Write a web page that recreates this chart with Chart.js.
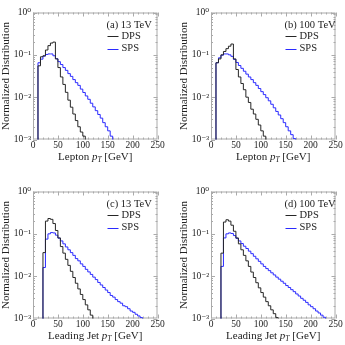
<!DOCTYPE html>
<html>
<head>
<meta charset="utf-8">
<script src="https://cdn.jsdelivr.net/npm/chart.js@4.4.1/dist/chart.umd.min.js"></script>
<style>
  html, body { margin: 0; padding: 0; background: #fff; }
  body { width: 345px; height: 345px; position: relative; overflow: hidden; }
  canvas { position: absolute; }
</style>
</head>
<body>
<canvas id="pa" width="168" height="166" style="left:0px;top:0px"></canvas>
<canvas id="pb" width="168" height="166" style="left:177.5px;top:0px"></canvas>
<canvas id="pc" width="168" height="166" style="left:0px;top:178.5px"></canvas>
<canvas id="pd" width="168" height="166" style="left:177.5px;top:178.5px"></canvas>
<script>
// histogram bins: 5 GeV wide, lepton from 5 GeV, leading jet from 15 GeV
const binWidth = 5
const leptonStart = 5
const jetStart = 15

const dpsLepton13 = [0.055, 0.09, 0.095, 0.13, 0.165, 0.19, 0.2, 0.08, 0.05, 0.03, 0.02, 0.013,
  0.0085, 0.0058, 0.004, 0.0028, 0.002, 0.0015, 0.0012, 0.0008]
const spsLepton13 = [0.065, 0.079, 0.093, 0.102, 0.105, 0.105, 0.095, 0.081, 0.069, 0.059, 0.05,
  0.043, 0.036, 0.031, 0.026, 0.022, 0.019, 0.0155, 0.0129, 0.0107, 0.0089, 0.0072, 0.0059,
  0.0048, 0.0039, 0.0032, 0.0025, 0.002, 0.0016, 0.0012, 0.00095]

const dpsLepton100 = [0.065, 0.08, 0.1, 0.12, 0.14, 0.16, 0.18, 0.08, 0.045, 0.03, 0.021, 0.015,
  0.01, 0.0075, 0.0052, 0.004, 0.003, 0.0022, 0.0016, 0.0012, 0.0008]
const spsLepton100 = [0.065, 0.085, 0.098, 0.105, 0.105, 0.1, 0.092, 0.078, 0.066, 0.056, 0.048,
  0.041, 0.035, 0.03, 0.026, 0.022, 0.019, 0.016, 0.0135, 0.0115, 0.0097, 0.0082, 0.0068,
  0.0056, 0.0046, 0.0038, 0.0031, 0.0025, 0.002, 0.0016, 0.0013, 0.00105, 0.0008]

const dpsJet13 = [0.036, 0.2, 0.23, 0.22, 0.175, 0.12, 0.08, 0.05, 0.035, 0.025, 0.018, 0.013,
  0.0093, 0.0068, 0.005, 0.0037, 0.0028, 0.0021, 0.0016, 0.0012, 0.0009]
const spsJet13 = [0.016, 0.075, 0.1, 0.107, 0.105, 0.093, 0.079, 0.068, 0.058, 0.049, 0.042,
  0.036, 0.031, 0.026, 0.023, 0.0195, 0.017, 0.0145, 0.0126, 0.011, 0.0095, 0.0083, 0.0071,
  0.0062, 0.0054, 0.0047, 0.0041, 0.0035, 0.0032, 0.0028, 0.0025, 0.0023, 0.002, 0.0019,
  0.0017, 0.0015, 0.0014, 0.00126, 0.00115, 0.00105, 0.00095]

const dpsJet100 = [0.035, 0.19, 0.215, 0.2, 0.16, 0.115, 0.08, 0.058, 0.042, 0.031, 0.023, 0.017,
  0.0125, 0.0093, 0.007, 0.0053, 0.0041, 0.0032, 0.0025, 0.002, 0.0016, 0.0013, 0.00105, 0.0008]
const spsJet100 = [0.017, 0.08, 0.1, 0.105, 0.102, 0.091, 0.078, 0.068, 0.059, 0.051, 0.045,
  0.039, 0.034, 0.0295, 0.0257, 0.0224, 0.0195, 0.017, 0.0151, 0.0135, 0.012, 0.0107, 0.0095,
  0.0085, 0.0076, 0.0068, 0.006, 0.0054, 0.0048, 0.0043, 0.0038, 0.0034, 0.003, 0.0027,
  0.0024, 0.0021, 0.0019, 0.0017, 0.0015, 0.00135, 0.0012, 0.00107, 0.00095]

const yTicks = [1e-3, 1e-2, 1e-1, 1]
const yTickLabels = ['10⁻³', '10⁻²', '10⁻¹', '10⁰']
const xTicks = [0, 50, 100, 150, 200, 250]

const serif = '"Liberation Serif", "DejaVu Serif", serif'
const dpsColor = '#262626'
const spsColor = '#2a2aff'
const frameColor = '#aaaaaa'
const textColor = '#222222'

Chart.defaults.font.family = serif

// step outline: points sit on right bin edges, 'before' draws the rise first
function steps(start, values) {
    const pts = [{ x: start, y: 1e-6 }]
    values.forEach((v, i) => pts.push({ x: start + binWidth * (i + 1), y: v }))
    return pts
}

// Mathematica-like frame with inward ticks on all four sides
const framePlugin = {
    id: 'frame',
    beforeDatasetsDraw(chart) {
        const { ctx, chartArea: a, scales: { x, y } } = chart
        ctx.save()
        ctx.strokeStyle = frameColor
        ctx.lineWidth = 1
        ctx.strokeRect(a.left + 0.5, a.top + 0.5, a.right - a.left - 1, a.bottom - a.top - 1)
        ctx.beginPath()
        for (let v = 0; v <= 250; v += 10) {
            const px = Math.round(x.getPixelForValue(v)) + 0.5
            const len = v % 50 === 0 ? 4 : 2
            ctx.moveTo(px, a.bottom); ctx.lineTo(px, a.bottom - len)
            ctx.moveTo(px, a.top); ctx.lineTo(px, a.top + len)
        }
        for (let k = -3; k <= 0; k++) {
            for (let m = 1; m <= 9; m++) {
                const v = m * Math.pow(10, k)
                if (v > 1) break
                const py = Math.round(y.getPixelForValue(v)) + 0.5
                const len = m === 1 ? 4 : 2
                ctx.moveTo(a.left, py); ctx.lineTo(a.left + len, py)
                ctx.moveTo(a.right, py); ctx.lineTo(a.right - len, py)
            }
        }
        ctx.stroke()
        ctx.restore()
    }
}

// panel label, legend and x title with italic p_T
const textPlugin = {
    id: 'texts',
    afterDraw(chart, args, opts) {
        const { ctx, chartArea: a } = chart
        ctx.save()
        ctx.fillStyle = textColor
        ctx.textBaseline = 'middle'
        ctx.textAlign = 'left'
        ctx.font = '10.5px ' + serif
        const lx = a.right - 51
        ctx.fillText(opts.tag, lx, a.top + 13)
        const rows = [['DPS', dpsColor, a.top + 23.5], ['SPS', spsColor, a.top + 36]]
        rows.forEach(([name, color, ry]) => {
            ctx.strokeStyle = color
            ctx.lineWidth = 1
            ctx.beginPath()
            ctx.moveTo(lx + 1, Math.round(ry) + 0.5)
            ctx.lineTo(lx + 12, Math.round(ry) + 0.5)
            ctx.stroke()
            ctx.fillText(name, lx + 15, ry)
        })

        const parts = [
            { t: opts.xName + ' ', f: '11px ' + serif, dy: 0 },
            { t: 'p', f: 'italic 11px ' + serif, dy: 0 },
            { t: 'T', f: 'italic 7.5px ' + serif, dy: 3 },
            { t: ' [GeV]', f: '11px ' + serif, dy: 0 }
        ]
        let total = 0
        parts.forEach(p => { ctx.font = p.f; p.w = ctx.measureText(p.t).width; total += p.w })
        let cx = (a.left + a.right) / 2 - total / 2
        const ty = a.bottom + 17.5
        parts.forEach(p => {
            ctx.font = p.f
            ctx.fillText(p.t, cx, ty + p.dy)
            cx += p.w
        })
        ctx.restore()
    }
}

function panel(id, tag, xName, start, dps, sps) {
    new Chart(document.getElementById(id), {
        type: 'line',
        data: {
            datasets: [{
                label: 'DPS',
                data: steps(start, dps),
                borderColor: dpsColor,
                borderWidth: 1,
                stepped: 'before',
                pointRadius: 0,
                fill: false
            }, {
                label: 'SPS',
                data: steps(start, sps),
                borderColor: spsColor,
                borderWidth: 1,
                stepped: 'before',
                pointRadius: 0,
                fill: false
            }]
        },
        options: {
            responsive: false,
            animation: false,
            devicePixelRatio: 1,
            layout: { padding: { top: 12.5, right: 10.5, left: 0, bottom: 0 } },
            plugins: {
                legend: { display: false },
                tooltip: { enabled: false },
                texts: { tag: tag, xName: xName }
            },
            scales: {
                x: {
                    type: 'linear',
                    min: 0,
                    max: 250,
                    afterFit: s => { s.height = 26.5 },
                    afterBuildTicks: s => { s.ticks = xTicks.map(v => ({ value: v })) },
                    grid: { display: false, drawTicks: false },
                    border: { display: false },
                    ticks: {
                        color: textColor,
                        font: { size: 9.5 },
                        padding: 0,
                        maxRotation: 0,
                        autoSkip: false
                    }
                },
                y: {
                    type: 'logarithmic',
                    min: 1e-3,
                    max: 1,
                    afterFit: s => { s.width = 33 },
                    afterBuildTicks: s => { s.ticks = yTicks.map(v => ({ value: v })) },
                    grid: { display: false, drawTicks: false },
                    border: { display: false },
                    ticks: {
                        color: textColor,
                        font: { size: 9.5 },
                        padding: 2,
                        callback: v => yTickLabels[yTicks.indexOf(v)]
                    },
                    title: {
                        display: true,
                        text: 'Normalized Distribution',
                        color: textColor,
                        font: { size: 11 },
                        padding: 0
                    }
                }
            }
        },
        plugins: [framePlugin, textPlugin]
    })
}

panel('pa', '(a) 13 TeV', 'Lepton', leptonStart, dpsLepton13, spsLepton13)
panel('pb', '(b) 100 TeV', 'Lepton', leptonStart, dpsLepton100, spsLepton100)
panel('pc', '(c) 13 TeV', 'Leading Jet', jetStart, dpsJet13, spsJet13)
panel('pd', '(d) 100 TeV', 'Leading Jet', jetStart, dpsJet100, spsJet100)
</script>
</body>
</html>
